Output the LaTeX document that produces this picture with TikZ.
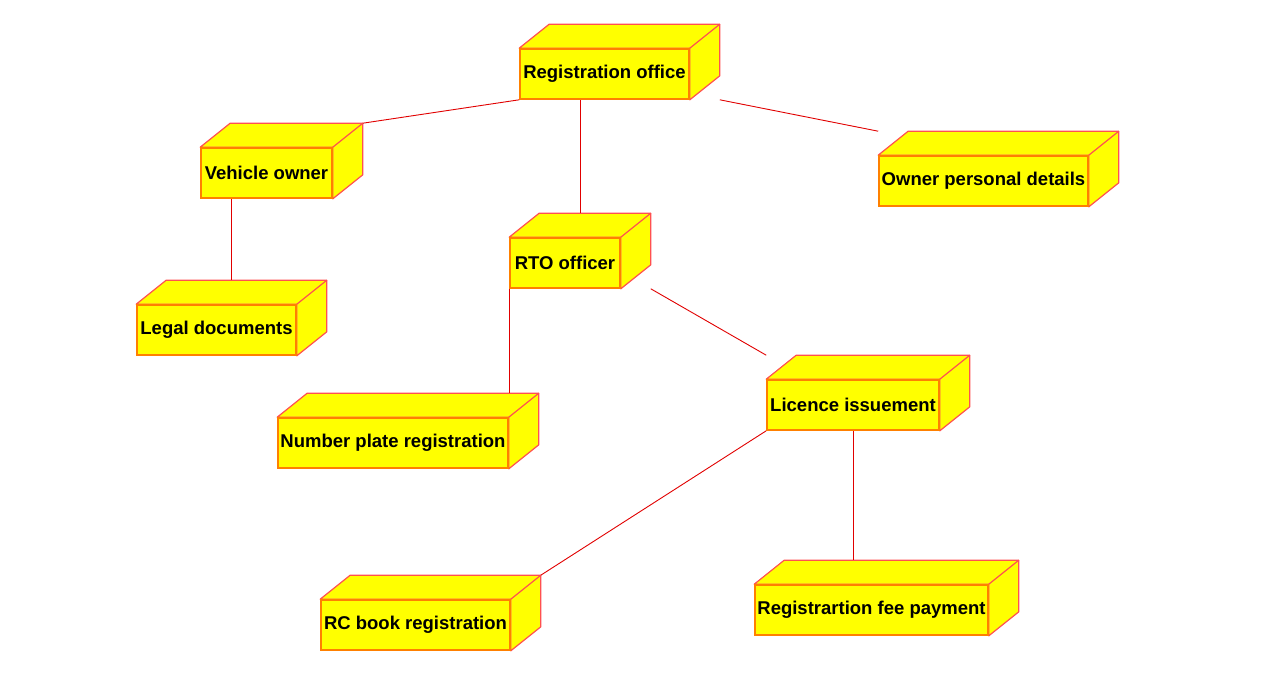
\documentclass[tikz,border=0pt]{standalone}
\usepackage{fontspec}
\setmainfont{Liberation Sans}
\usepackage{tikz}

\definecolor{boxfill}{RGB}{255,255,0}
\definecolor{boxfront}{RGB}{255,128,0}
\definecolor{boxside}{RGB}{255,80,80}
\definecolor{linkred}{RGB}{225,0,0}

\pgfdeclarelayer{background}
\pgfsetlayers{background,main}

\begin{document}
\begin{tikzpicture}[x=1pt,y=-1pt,
  dev/.style={draw=boxfront, line width=1.6pt, fill=boxfill, minimum height=50pt,
    inner xsep=1pt, font=\fontsize{18.5}{20}\selectfont\bfseries},
  face/.style={draw=boxside, line width=1.2pt, fill=boxfill, line join=round},
  link/.style={draw=linkred, line width=0.9pt}]
\useasboundingbox (0,0) rectangle (1267,685);

\node[dev, minimum width=169] (ro)  at (604.5,74)  {Registration office};
\node[dev, minimum width=131] (vo)  at (266.5,173) {Vehicle owner};
\node[dev, minimum width=209] (opd) at (983.5,181) {Owner personal details};
\node[dev, minimum width=110] (rto) at (565,263)   {RTO officer};
\node[dev, minimum width=159] (ld)  at (216.5,330) {Legal documents};
\node[dev, minimum width=172] (li)  at (853,405)   {Licence issuement};
\node[dev, minimum width=230] (npr) at (393,443)   {Number plate registration};
\node[dev, minimum width=233] (rfp) at (871.5,610) {Registrartion fee payment};
\node[dev, minimum width=189] (rcb) at (415.5,625) {RC book registration};

% depth of the boxes
\begin{pgfonlayer}{background}
\foreach \n in {ro,vo,opd,rto,ld,li,npr,rfp,rcb}
  {
    \draw[face] (\n.north west) -- ++(30,-24) -- ([shift={(30,-24)}]\n.north east)
      -- ([shift={(30,-24)}]\n.south east) -- (\n.south east) -- (\n.north east) -- cycle;
    \draw[face] (\n.north east) -- ++(30,-24);
  }
\end{pgfonlayer}

\coordinate (rtotop) at ([shift={(15,-24)}]rto.north);
\coordinate (ldtop)  at ([shift={(15,-24)}]ld.north);
\coordinate (nprtop) at ([shift={(15,-24)}]npr.north);
\coordinate (rfptop) at ([shift={(15,-24)}]rfp.north);

\draw[link] (ro.south west) -- ([shift={(30,-24)}]vo.north east);
\draw[link] ([xshift=30pt]ro.south east) -- ([shift={(0,-24)}]opd.north west);
\draw[link] (rtotop) -- (rtotop |- ro.south);
\draw[link] (ldtop) -- (ldtop |- vo.south);
\draw[link] (rto.south west) -- (rto.south west |- nprtop);
\draw[link] ([xshift=30pt]rto.south east) -- ([shift={(0,-24)}]li.north west);
\draw[link] (li.south west) -- ([shift={(30,-24)}]rcb.north east);
\draw[link] (li.south) -- (li.south |- rfptop);

\end{tikzpicture}
\end{document}
